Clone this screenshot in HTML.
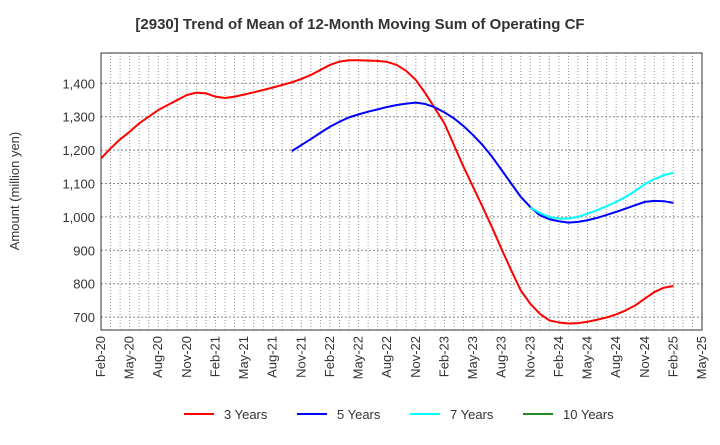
<!DOCTYPE html>
<html><head><meta charset="utf-8"><style>
body{margin:0;background:#fff;font-family:"Liberation Sans",sans-serif}
svg text{font-family:"Liberation Sans",sans-serif}
</style></head><body>
<svg id="c" width="720" height="440" viewBox="0 0 720 440">
<text x="360" y="29" text-anchor="middle" font-size="15" font-weight="bold" fill="#333">[2930]  Trend of Mean of 12-Month Moving Sum of Operating CF</text>
<text transform="translate(19,191) rotate(-90)" text-anchor="middle" font-size="13" fill="#333">Amount (million yen)</text>
<g id="grid"></g><g id="axes"></g><g id="series"></g><g id="legend"></g>
</svg>
<script>
const yTicks=[700,800,900,1000,1100,1200,1300,1400];
const xLabels=["Feb-20","May-20","Aug-20","Nov-20","Feb-21","May-21","Aug-21","Nov-21","Feb-22","May-22","Aug-22","Nov-22","Feb-23","May-23","Aug-23","Nov-23","Feb-24","May-24","Aug-24","Nov-24","Feb-25","May-25"];
const seriesNames=["3 Years","5 Years","7 Years","10 Years"];
const seriesColors=["#ff0000","#0000ff","#00ffff","#228b22"];
const red=[1175,1205,1232,1255,1280,1300,1320,1335,1350,1365,1372,1370,1360,1356,1360,1366,1373,1380,1387,1395,1403,1413,1425,1440,1455,1465,1469,1469,1468,1467,1464,1455,1437,1410,1370,1325,1280,1215,1150,1090,1030,968,903,840,780,740,710,690,684,681,682,686,692,699,708,720,735,755,775,788,793];
const redStart=0;
const blue=[1197,1215,1233,1252,1270,1285,1298,1307,1315,1322,1329,1335,1339,1342,1338,1328,1313,1295,1272,1245,1215,1180,1140,1100,1060,1030,1005,993,987,983,985,990,997,1006,1015,1025,1035,1045,1048,1047,1042];
const blueStart=20;
const cyan=[1028,1012,1000,995,995,1000,1010,1020,1032,1045,1060,1078,1098,1113,1125,1132];
const cyanStart=45;
const green=[];
const greenStart=0;

const L=101,R=702,T=53,B=330,NS="http://www.w3.org/2000/svg";
const x=m=>L+m*(R-L)/63;
const y=v=>83.3+(1400-v)*0.334;
function mk(t,a,p){const e=document.createElementNS(NS,t);for(const k in a)e.setAttribute(k,a[k]);p.appendChild(e);return e;}
const grid=document.getElementById('grid'),axes=document.getElementById('axes'),ser=document.getElementById('series'),leg=document.getElementById('legend');
for(let m=1;m<63;m++){const l=mk('line',{x1:x(m),x2:x(m),y1:T,y2:B,stroke:'#999','stroke-dasharray':'1,2','stroke-width':1},grid);

}
yTicks.forEach(v=>{const l=mk('line',{x1:L,x2:R,y1:y(v),y2:y(v),stroke:'#888','stroke-dasharray':'2,2','stroke-width':1},grid);


const t=mk('text',{x:L-6,y:y(v)+5,'text-anchor':'end','font-size':13,fill:'#333'},axes);t.textContent=v.toLocaleString('en-US');

});
xLabels.forEach((s,i)=>{const px=x(i*3);const t=mk('text',{transform:`translate(${px+4},${B+6}) rotate(-90)`,'text-anchor':'end','font-size':13,fill:'#333'},axes);t.textContent=s;

});
const fr=mk('rect',{x:L,y:T,width:R-L,height:B-T,fill:'none',stroke:'#333','stroke-width':1},axes);


[[red,redStart],[blue,blueStart],[cyan,cyanStart],[green,greenStart]].forEach(([d,s],k)=>{if(!d.length)return;
const p=mk('polyline',{points:d.map((v,i)=>x(s+i)+','+y(v)).join(' '),fill:'none',stroke:seriesColors[k],'stroke-width':2,'stroke-linejoin':'round'},ser);

});
seriesNames.forEach((n,k)=>{const bx=184+k*113;
const l=mk('line',{x1:bx,x2:bx+30,y1:414,y2:414,stroke:seriesColors[k],'stroke-width':2},leg);


const t=mk('text',{x:bx+40,y:419,'font-size':13,fill:'#333'},leg);t.textContent=n;

});
</script>
</body></html>
